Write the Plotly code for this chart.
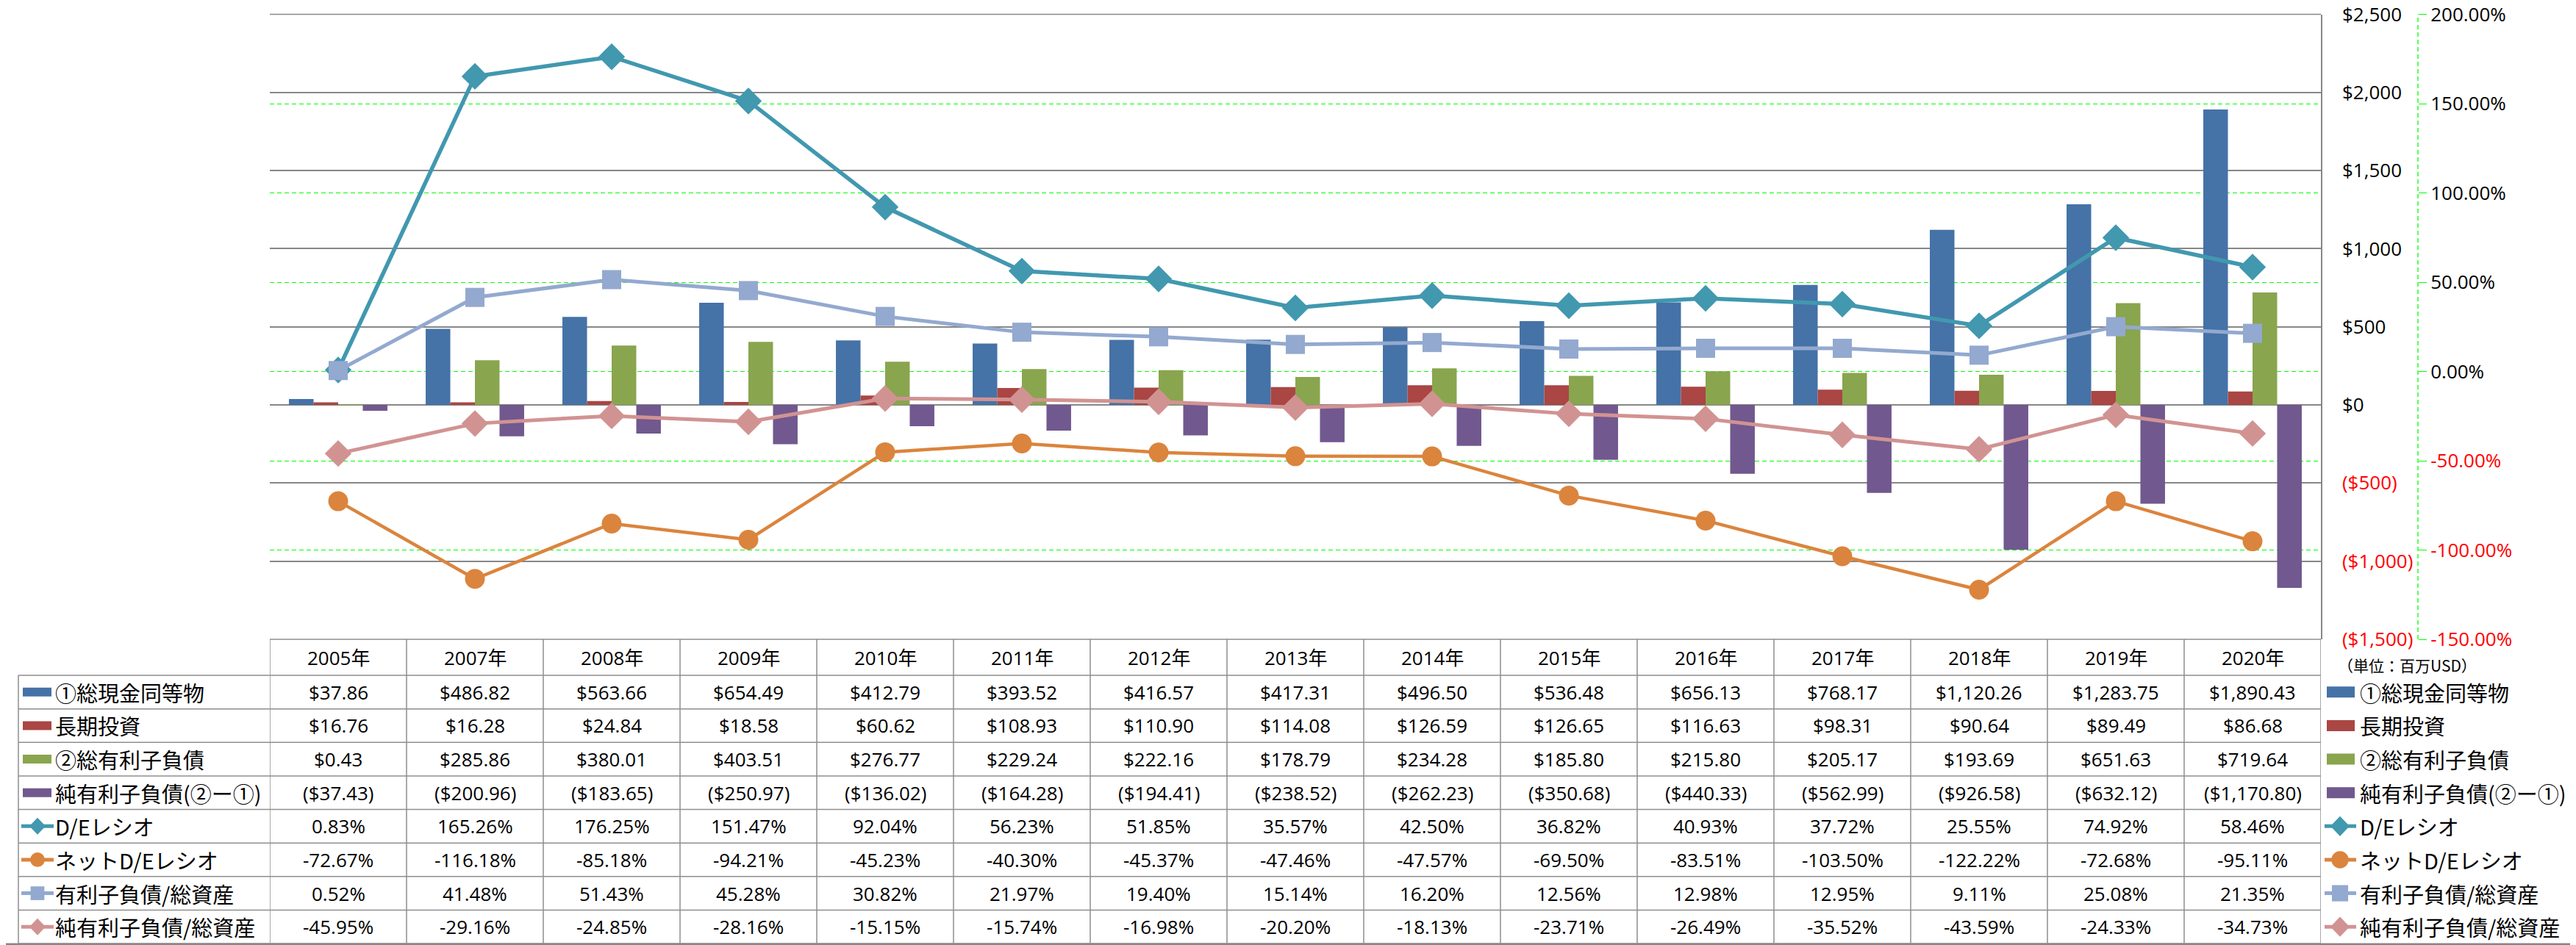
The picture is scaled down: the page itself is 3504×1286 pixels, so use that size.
import plotly.graph_objects as go

# ---------------- data ----------------
years = ["2005年", "2007年", "2008年", "2009年", "2010年", "2011年", "2012年", "2013年",
         "2014年", "2015年", "2016年", "2017年", "2018年", "2019年", "2020年"]
cash = [37.86, 486.82, 563.66, 654.49, 412.79, 393.52, 416.57, 417.31, 496.50, 536.48,
        656.13, 768.17, 1120.26, 1283.75, 1890.43]
lt_invest = [16.76, 16.28, 24.84, 18.58, 60.62, 108.93, 110.90, 114.08, 126.59, 126.65,
             116.63, 98.31, 90.64, 89.49, 86.68]
debt = [0.43, 285.86, 380.01, 403.51, 276.77, 229.24, 222.16, 178.79, 234.28, 185.80,
        215.80, 205.17, 193.69, 651.63, 719.64]
net_debt = [-37.43, -200.96, -183.65, -250.97, -136.02, -164.28, -194.41, -238.52, -262.23,
            -350.68, -440.33, -562.99, -926.58, -632.12, -1170.80]
de_ratio = [0.83, 165.26, 176.25, 151.47, 92.04, 56.23, 51.85, 35.57, 42.50, 36.82, 40.93,
            37.72, 25.55, 74.92, 58.46]
net_de_ratio = [-72.67, -116.18, -85.18, -94.21, -45.23, -40.30, -45.37, -47.46, -47.57,
                -69.50, -83.51, -103.50, -122.22, -72.68, -95.11]
debt_assets = [0.52, 41.48, 51.43, 45.28, 30.82, 21.97, 19.40, 15.14, 16.20, 12.56, 12.98,
               12.95, 9.11, 25.08, 21.35]
net_debt_assets = [-45.95, -29.16, -24.85, -28.16, -15.15, -15.74, -16.98, -20.20, -18.13,
                   -23.71, -26.49, -35.52, -43.59, -24.33, -34.73]

series_names = ["①総現金同等物", "長期投資", "②総有利子負債", "純有利子負債(②ー①)",
                "D/Eレシオ", "ネットD/Eレシオ", "有利子負債/総資産", "純有利子負債/総資産"]
y1_ticks = [-1500, -1000, -500, 0, 500, 1000, 1500, 2000, 2500]
y2_ticks = [-150, -100, -50, 0, 50, 100, 150, 200]
unit_label = "（単位：百万USD）"

# ---------------- style ----------------
W, H = 3504, 1286
OFF = 8  # the page body has a default 8px margin; layout positions are given in page pixels
CJK = "Noto Sans CJK JP"
NUMF = "Open Sans, Noto Sans CJK JP"
bar_colors = ["#4572A7", "#AA4643", "#89A54E", "#71588F"]
line_colors = ["#4198AF", "#DB843D", "#93A9CF", "#D19392"]
line_widths = [5.5, 4.5, 5, 5]
symbols = ["diamond", "circle", "square", "diamond"]
msizes = [28, 27, 26, 28]
GRID = "#878787"
TABLE_LINE = "#8E8E8E"
GREEN = "#00FF00"
RED = "#FF0000"

PLOT_L, PLOT_R, PLOT_T, PLOT_B = 367, 3157, 19.5, 870
Y2_AXIS_X = 3289


def px(x):
    return (x - OFF) / W


def py(y):
    return 1 - (y - OFF) / H


def money(v):
    return f"${v:,.2f}" if v >= 0 else f"(${-v:,.2f})"


def pct(v):
    return f"{v:.2f}%"


def money_tick(v):
    return f"${v:,.0f}" if v >= 0 else f'<span style="color:{RED}">(${-v:,.0f})</span>'


def pct_tick(v):
    s = f"{v:.2f}%"
    return s if v >= 0 else f'<span style="color:{RED}">{s}</span>'


fig = go.Figure()

bar_data = [cash, lt_invest, debt, net_debt]
for i, vals in enumerate(bar_data):
    fig.add_trace(go.Bar(x=years, y=vals, name=series_names[i], marker_color=bar_colors[i],
                         marker_line_width=0, yaxis="y", xaxis="x"))

line_data = [de_ratio, net_de_ratio, debt_assets, net_debt_assets]
for i, vals in enumerate(line_data):
    fig.add_trace(go.Scatter(x=years, y=vals, name=series_names[4 + i], mode="lines+markers",
                             line=dict(color=line_colors[i], width=line_widths[i]),
                             marker=dict(symbol=symbols[i], size=msizes[i], color=line_colors[i],
                                         line=dict(width=0)),
                             yaxis="y2", xaxis="x"))

shapes = []
annotations = []

# outer chart border
shapes.append(dict(type="rect", xref="paper", yref="paper", x0=px(1), x1=px(3502.5), y0=py(1285),
                   y1=py(1), line=dict(color="#868686", width=3), fillcolor="rgba(0,0,0,0)",
                   layer="above"))
# plot-area top edge (gridline at the top of the value axis)
shapes.append(dict(type="line", xref="paper", yref="paper", x0=px(PLOT_L), x1=px(PLOT_R),
                   y0=py(PLOT_T), y1=py(PLOT_T), line=dict(color=GRID, width=1.5), layer="below"))

# secondary axis dashed line
shapes.append(dict(type="line", xref="paper", yref="paper", x0=px(Y2_AXIS_X), x1=px(Y2_AXIS_X),
                   y0=py(PLOT_B), y1=py(PLOT_T), line=dict(color=GREEN, width=1.3, dash="6px,4px")))

# ---------------- data table ----------------
HEADER_TOP, HEADER_BOT = 870, 919
TABLE_BOT = 1284
TABLE_LEFT = 25
row_h = (TABLE_BOT - HEADER_BOT) / 8
row_bounds = [HEADER_BOT + k * row_h for k in range(9)]

# horizontal lines
shapes.append(dict(type="line", xref="paper", yref="paper", x0=px(PLOT_L), x1=px(PLOT_R),
                   y0=py(HEADER_TOP), y1=py(HEADER_TOP), line=dict(color=TABLE_LINE, width=1.5)))
for yb in row_bounds:
    shapes.append(dict(type="line", xref="paper", yref="paper", x0=px(TABLE_LEFT), x1=px(PLOT_R),
                       y0=py(yb), y1=py(yb), line=dict(color=TABLE_LINE, width=1.5)))
# vertical lines
shapes.append(dict(type="line", xref="paper", yref="paper", x0=px(TABLE_LEFT), x1=px(TABLE_LEFT),
                   y0=py(HEADER_BOT), y1=py(TABLE_BOT), line=dict(color=TABLE_LINE, width=1.5)))
for k in range(len(years) + 1):
    shapes.append(dict(type="line", xref="x", yref="paper", x0=k - 0.5, x1=k - 0.5,
                       y0=py(HEADER_TOP), y1=py(TABLE_BOT), line=dict(color=TABLE_LINE, width=1.5)))

TFONT = dict(family=NUMF, size=26, color="#000000")
LFONT = dict(family=CJK, size=29, color="#000000")

# header
for yr in years:
    annotations.append(dict(x=yr, xref="x", y=py((HEADER_TOP + HEADER_BOT) / 2), yref="paper",
                            text=yr, showarrow=False, font=TFONT, xanchor="center", yanchor="middle"))

table_rows = [
    [money(v) for v in cash],
    [money(v) for v in lt_invest],
    [money(v) for v in debt],
    [money(v) for v in net_debt],
    [pct(v) for v in de_ratio],
    [pct(v) for v in net_de_ratio],
    [pct(v) for v in debt_assets],
    [pct(v) for v in net_debt_assets],
]
for r, row in enumerate(table_rows):
    yc = (row_bounds[r] + row_bounds[r + 1]) / 2
    for yr, txt in zip(years, row):
        annotations.append(dict(x=yr, xref="x", y=py(yc), yref="paper", text=txt, showarrow=False,
                                font=TFONT, xanchor="center", yanchor="middle"))


def add_key(r, cx_rect0, cx_rect1, rect_h, line_x0, line_x1, mcx, msize_scale):
    yc = (row_bounds[r] + row_bounds[r + 1]) / 2
    if r < 4:
        shapes.append(dict(type="rect", xref="paper", yref="paper", x0=px(cx_rect0), x1=px(cx_rect1),
                           y0=py(yc + rect_h / 2), y1=py(yc - rect_h / 2),
                           fillcolor=bar_colors[r], line=dict(width=0)))
    else:
        i = r - 4
        col = line_colors[i]
        shapes.append(dict(type="line", xref="paper", yref="paper", x0=px(line_x0), x1=px(line_x1),
                           y0=py(yc), y1=py(yc), line=dict(color=col, width=5)))
        s = msize_scale
        common = dict(xref="paper", yref="paper", xsizemode="pixel", ysizemode="pixel",
                      xanchor=px(mcx), yanchor=py(yc), fillcolor=col, line=dict(width=0))
        if symbols[i] == "diamond":
            shapes.append(dict(type="path", path=f"M {-s} 0 L 0 {s * 1.05} L {s} 0 L 0 {-s * 1.05} Z",
                               **common))
        elif symbols[i] == "circle":
            shapes.append(dict(type="circle", x0=-s * 0.9, x1=s * 0.9, y0=-s * 0.9, y1=s * 0.9, **common))
        else:
            shapes.append(dict(type="rect", x0=-s * 0.85, x1=s * 0.85, y0=-s * 0.85, y1=s * 0.85, **common))
    return yc


# left label column keys + text
for r in range(8):
    yc = add_key(r, 31, 70, 12, 29, 73, 51, 11)
    annotations.append(dict(x=px(73), xref="paper", y=py(yc), yref="paper", text=series_names[r],
                            showarrow=False, font=LFONT, xanchor="left", yanchor="middle"))

# right legend keys + text
for r in range(8):
    yc = add_key(r, 3165, 3203, 15, 3162, 3205, 3183, 13)
    annotations.append(dict(x=px(3208), xref="paper", y=py(yc), yref="paper", text=series_names[r],
                            showarrow=False, font=LFONT, xanchor="left", yanchor="middle"))

annotations.append(dict(x=px(3178), xref="paper", y=py(905), yref="paper", text=unit_label,
                        showarrow=False, font=dict(family=CJK, size=21, color="#000000"),
                        xanchor="left", yanchor="middle"))

TICKFONT = dict(family=NUMF, size=26, color="#000000")

fig.update_layout(
    width=W, height=H, autosize=False,
    margin=dict(l=0, r=0, t=0, b=0, pad=0, autoexpand=False),
    paper_bgcolor="white", plot_bgcolor="white",
    showlegend=False, hovermode=False,
    barmode="group", bargap=0.28, bargroupgap=0,
    font=dict(family=CJK, size=26, color="#000000"),
    xaxis=dict(domain=[px(PLOT_L), px(PLOT_R)], type="category", categoryorder="array",
               categoryarray=years, range=[-0.5, len(years) - 0.5], autorange=False,
               showticklabels=False, automargin=False,
               showgrid=False, zeroline=False, showline=False, ticks=""),
    yaxis=dict(domain=[py(PLOT_B), py(PLOT_T)], range=[y1_ticks[0], y1_ticks[-1]], autorange=False,
               side="right", anchor="x", tickmode="array", tickvals=y1_ticks,
               ticktext=[money_tick(v) for v in y1_ticks], automargin=False,
               showgrid=True, gridcolor=GRID, gridwidth=1.5, zeroline=False,
               showline=True, linecolor=GRID, linewidth=1.5, ticks="",
               ticklabelstandoff=22, ticklabeloverflow="allow", tickfont=TICKFONT),
    yaxis2=dict(overlaying="y", side="right", anchor="free", position=px(Y2_AXIS_X),
                range=[y2_ticks[0], y2_ticks[-1]], autorange=False, automargin=False,
                tickmode="array", tickvals=y2_ticks,
                ticktext=[pct_tick(v) for v in y2_ticks],
                showgrid=True, gridcolor=GREEN, gridwidth=1.3, griddash="6px,4px",
                zeroline=False, showline=False, ticks="outside", ticklen=11, tickcolor=GREEN,
                tickwidth=1.3, ticklabelstandoff=0, ticklabeloverflow="allow",
                tickfont=TICKFONT),
    shapes=shapes,
    annotations=annotations,
)

fig.write_html("out.html")
